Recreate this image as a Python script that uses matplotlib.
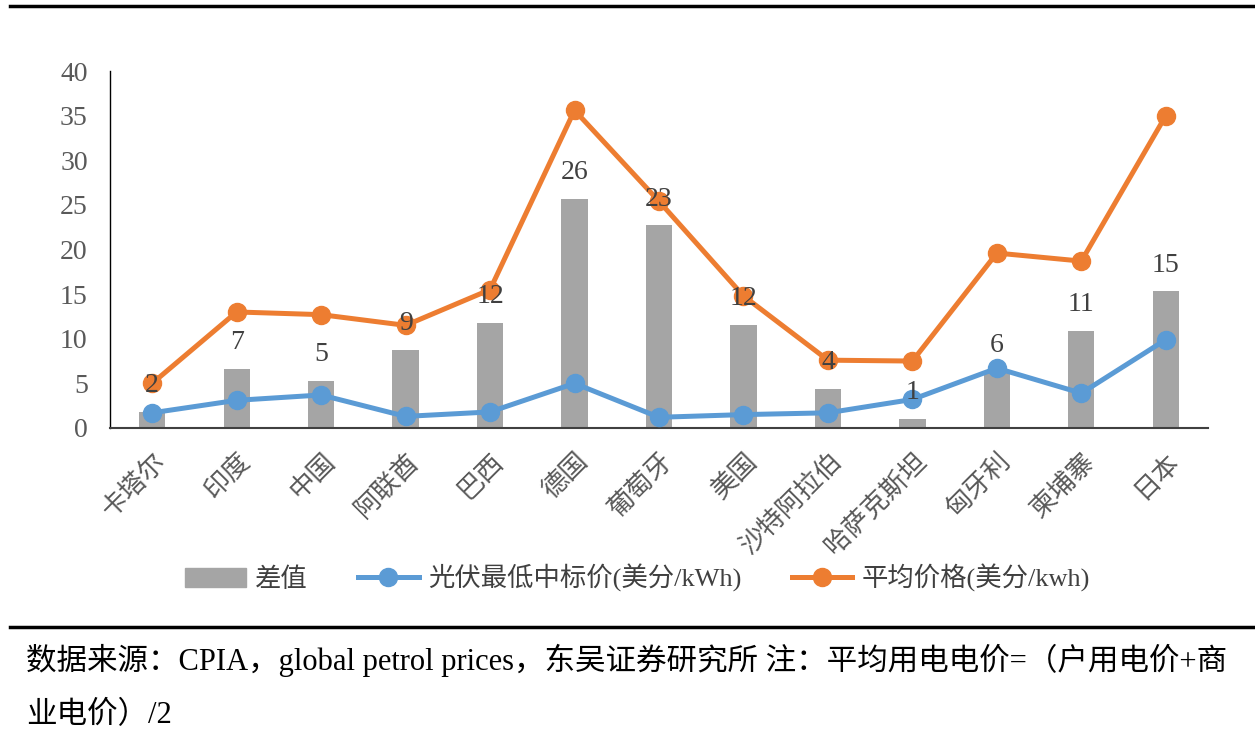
import matplotlib.pyplot as plt
from matplotlib.patches import Patch
from matplotlib.lines import Line2D

plt.rcParams['font.family'] = ['Liberation Serif', 'Noto Sans CJK SC', 'DejaVu Sans']

countries = ['卡塔尔', '印度', '中国', '阿联酋', '巴西', '德国', '葡萄牙', '美国',
             '沙特阿拉伯', '哈萨克斯坦', '匈牙利', '柬埔寨', '日本']
diff = [1.8, 6.6, 5.3, 8.7, 11.8, 25.7, 22.7, 11.5, 4.4, 1.0, 6.3, 10.9, 15.3]
diff_labels = ['2', '7', '5', '9', '12', '26', '23', '12', '4', '1', '6', '11', '15']
pv_price = [1.7, 3.1, 3.7, 1.3, 1.8, 5.0, 1.2, 1.5, 1.7, 3.2, 6.7, 3.9, 9.9]
avg_price = [5.0, 13.0, 12.7, 11.5, 15.5, 35.6, 25.4, 14.8, 7.6, 7.5, 19.6, 18.7, 35.0]

gray = '#A5A5A5'
blue = '#5B9BD5'
orange = '#ED7D31'

fig = plt.figure(figsize=(12.55, 7.35), dpi=100)
ax = fig.add_axes([0.0876, 0.4177, 0.875, 0.4857])

x = list(range(len(countries)))
ax.bar(x, diff, width=0.31, color=gray, zorder=1)
ax.plot(x, pv_price, color=blue, lw=3.6, marker='o', ms=13, zorder=3)
ax.plot(x, avg_price, color=orange, lw=3.6, marker='o', ms=13, zorder=2)

for xi, v, t in zip(x, diff, diff_labels):
    ax.annotate(t, (xi, v), xytext=(0, 19), textcoords='offset points',
                ha='center', va='center', fontsize=20, color='#404040', zorder=4)

ax.set_xlim(-0.5, len(countries) - 0.5)
ax.set_ylim(0, 40)
ax.set_yticks(range(0, 41, 5))
ax.tick_params(axis='y', length=0, labelsize=20, labelcolor='#595959', pad=16)
ax.tick_params(axis='x', length=0, pad=14)
ax.set_xticks(x)
ax.set_xticklabels(countries, rotation=45, ha='right', rotation_mode='anchor',
                   fontsize=19, color='#595959', family=['Noto Sans CJK SC'])
ax.spines['top'].set_visible(False)
ax.spines['right'].set_visible(False)
ax.spines['left'].set_color('black')
ax.spines['left'].set_linewidth(1)
ax.spines['bottom'].set_color('#404040')
ax.spines['bottom'].set_linewidth(1.5)

handles = [Patch(color=gray),
           Line2D([], [], color=blue, lw=3.6, marker='o', ms=13),
           Line2D([], [], color=orange, lw=3.6, marker='o', ms=13)]
labels = ['差值', '光伏最低中标价(美分/kWh)', '平均价格(美分/kwh)']
fig.legend(handles, labels, loc='center', bbox_to_anchor=(0.508, 0.2136), ncol=3,
           frameon=False, fontsize=19, handlelength=2.3, handletextpad=0.35,
           columnspacing=1.9, labelcolor='#404040')

# horizontal rules
fig.add_artist(Line2D([0.008, 1.0], [0.992, 0.992], color='black', lw=2.5))
fig.add_artist(Line2D([0.008, 1.0], [0.147, 0.147], color='black', lw=2.5))

fig.text(0.021, 0.101, '数据来源：CPIA，global petrol prices，东吴证券研究所 注：平均用电电价=（户用电价+商',
         fontsize=22, va='center', ha='left', color='black')
fig.text(0.021, 0.026, '业电价）/2', fontsize=22, va='center', ha='left', color='black')

fig.savefig('out.png', dpi=100)
